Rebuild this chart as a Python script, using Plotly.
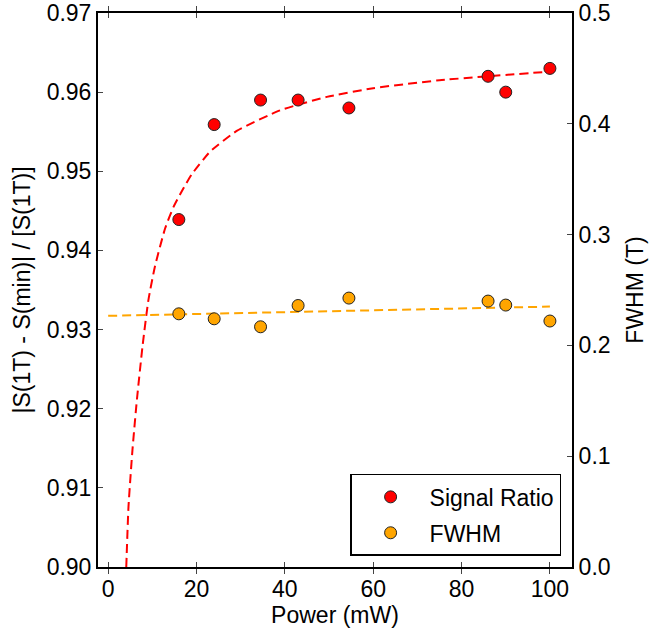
import plotly.graph_objects as go

# measured points
power = [16, 24, 34.5, 43, 54.5, 86, 90, 100]
signal_ratio = [0.9439, 0.9559, 0.9590, 0.9590, 0.9580, 0.9620, 0.9600, 0.9630]
fwhm = [0.2285, 0.2240, 0.2168, 0.2360, 0.2427, 0.2400, 0.2364, 0.2220]

# fitted curves
fit_sig_x = [4.1, 4.6, 5.5, 6.5, 7.8, 9.1, 10.6, 12.9, 14.8, 16.7, 18.9, 23.1,
             29.1, 38.9, 49.5, 60, 75, 100]
fit_sig_y = [0.9000, 0.9076, 0.9148, 0.9211, 0.9280, 0.9337, 0.9380, 0.9428,
             0.9455, 0.9475, 0.9496, 0.9525, 0.9551, 0.9577, 0.9594, 0.9605,
             0.9615, 0.9626]
fit_fwhm_x = [0, 100]
fit_fwhm_y = [0.2267, 0.2350]

font = "Liberation Sans, Arial, sans-serif"

fig = go.Figure()

fig.add_trace(go.Scatter(
    x=fit_sig_x, y=fit_sig_y, mode="lines", showlegend=False,
    line=dict(color="#ff0000", width=2, dash="9px,5px", shape="spline", smoothing=0.5),
    hoverinfo="skip",
))
fig.add_trace(go.Scatter(
    x=fit_fwhm_x, y=fit_fwhm_y, mode="lines", showlegend=False, yaxis="y2",
    line=dict(color="#ffa500", width=2, dash="9px,5px"),
    hoverinfo="skip",
))
fig.add_trace(go.Scatter(
    x=power, y=signal_ratio, mode="markers", name="Signal Ratio", legendgroup="a",
    marker=dict(color="#ff0000", size=12, line=dict(color="#222222", width=1)),
))
fig.add_trace(go.Scatter(
    x=power, y=fwhm, mode="markers", name="FWHM", yaxis="y2", legendgroup="b",
    marker=dict(color="#ffa500", size=12, line=dict(color="#222222", width=1)),
))

axis_common = dict(
    showgrid=False, zeroline=False, showline=True, linecolor="black", linewidth=2,
    ticks="inside", ticklen=5, tickcolor="#444444", tickwidth=1,
    tickfont=dict(size=23, color="black"), automargin=False,
    ticklabeloverflow="allow",
)

fig.update_layout(
    width=662, height=635,
    margin=dict(l=98, r=90, t=13, b=68),
    paper_bgcolor="white", plot_bgcolor="white",
    font=dict(family=font, size=23, color="black"),
    xaxis=dict(
        range=[-2.3, 105], tickvals=[0, 20, 40, 60, 80, 100],
        mirror="allticks",
        title=dict(text="Power (mW)", font=dict(size=23), standoff=4),
        **axis_common,
    ),
    yaxis=dict(
        range=[0.90, 0.97], dtick=0.01, tickformat=".2f",
        title=dict(text="|S(1T) - S(min)| / [S(1T)]", font=dict(size=23), standoff=10),
        **axis_common,
    ),
    yaxis2=dict(
        range=[0, 0.5], dtick=0.1, tickformat=".1f", overlaying="y", side="right",
        title=dict(text="FWHM (T)", font=dict(size=23), standoff=17),
        **axis_common,
    ),
    legend=dict(
        x=0.977, y=0.02, xanchor="right", yanchor="bottom",
        bordercolor="black", borderwidth=1.5, bgcolor="white",
        font=dict(size=23), itemwidth=68, tracegroupgap=3,
    ),
)

# drop the default 8px page margin so the figure sits at the window corner
fig.write_html("out.html", config={"displayModeBar": False},
               post_script="document.body.style.margin='0';")
